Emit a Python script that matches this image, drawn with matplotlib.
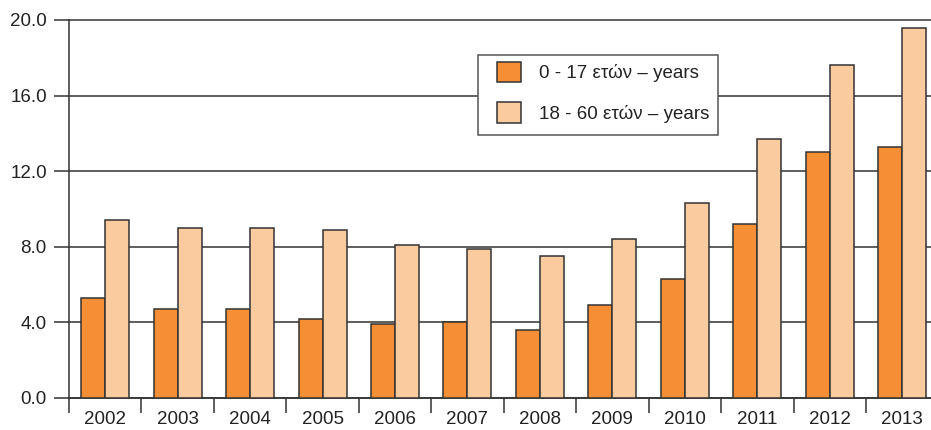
import matplotlib.pyplot as plt
import matplotlib.patches as mpatches
import numpy as np

plt.rcParams['font.family'] = ['Liberation Sans', 'DejaVu Sans']

years = ['2002', '2003', '2004', '2005', '2006', '2007',
         '2008', '2009', '2010', '2011', '2012', '2013']
age_0_17 = [5.3, 4.7, 4.7, 4.2, 3.9, 4.0, 3.6, 4.9, 6.3, 9.2, 13.0, 13.3]
age_18_60 = [9.4, 9.0, 9.0, 8.9, 8.1, 7.9, 7.5, 8.4, 10.3, 13.7, 17.6, 19.6]
labels = ['0 - 17 ετών – years', '18 - 60 ετών – years']

W, H = 931, 430
fs = 13.5
fig = plt.figure(figsize=(W / 100, H / 100), dpi=100)
ax = fig.add_axes([69 / W, 32 / H, (W - 69) / W, 378 / H])

x = np.arange(len(years))
bw = 0.331
ec = '#333333'
ax.bar(x + 0.5 - bw / 2, age_0_17, bw, color='#f58e35', edgecolor=ec,
       linewidth=1.1, label=labels[0], zorder=3)
ax.bar(x + 0.5 + bw / 2, age_18_60, bw, color='#fbcba0', edgecolor=ec,
       linewidth=1.1, label=labels[1], zorder=3)

ax.set_xlim(0, (W - 69) / 72.45)
ax.set_ylim(0, 20)

# category boundaries get the tick marks, names sit in between
ax.set_xticks(np.arange(len(years)))
ax.set_xticklabels([])
ax.set_xticks(x + 0.5, minor=True)
ax.set_xticklabels(years, minor=True)
ax.tick_params(axis='x', which='major', length=11, width=1.1, color=ec)
ax.tick_params(axis='x', which='minor', length=0, pad=9, labelsize=fs,
               labelcolor='#222222')

yt = np.arange(0, 21, 4)
ax.set_yticks(yt)
ax.set_yticklabels(['%.1f' % v for v in yt])
ax.tick_params(axis='y', length=11, width=1.1, color=ec, pad=5,
               labelsize=fs, labelcolor='#222222')

ax.yaxis.grid(True, color=ec, linewidth=1.1, zorder=0)
for gl in ax.get_ygridlines():
    gl.set_clip_on(False)

for s in ['top', 'right']:
    ax.spines[s].set_visible(False)
for s in ['left', 'bottom']:
    ax.spines[s].set_color(ec)
    ax.spines[s].set_linewidth(1.1)

# legend box drawn separately so its padding can match the original
box = mpatches.Rectangle((478 / W, 1 - 135 / H), 240 / W, 80 / H,
                         transform=fig.transFigure, facecolor='white',
                         edgecolor='#555555', linewidth=1.1, zorder=5)
fig.patches.append(box)
leg = fig.legend(loc='upper left', bbox_to_anchor=(497 / W, 1 - 62 / H),
                 fontsize=fs, frameon=False, borderaxespad=0, borderpad=0,
                 handlelength=1.3, handleheight=1.3, handletextpad=0.95,
                 labelspacing=1.05)
leg.set_zorder(6)
for t in leg.get_texts():
    t.set_color('#222222')

fig.savefig('out.png', dpi=100)
